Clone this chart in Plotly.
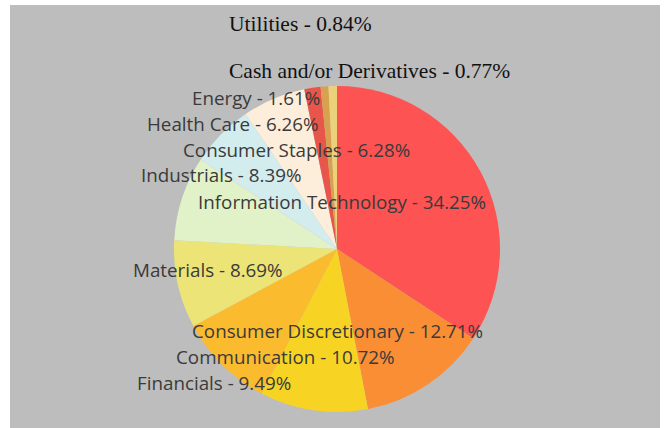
import plotly.graph_objects as go

sectors = ["Information Technology", "Consumer Discretionary", "Communication", "Financials",
           "Materials", "Industrials", "Consumer Staples", "Health Care", "Energy",
           "Cash and/or Derivatives", "Utilities"]
weights = [34.25, 12.71, 10.72, 9.49, 8.69, 8.39, 6.28, 6.26, 1.61, 0.77, 0.84]
colors = ["#fd5353", "#f98e35", "#f7d424", "#fbbb2f", "#ede477", "#e2f2c8",
          "#d3ecee", "#fdeedb", "#e8564b", "#d8a14f", "#ebd27a"]

W, H = 664, 428

fig = go.Figure(go.Pie(
    labels=sectors, values=weights, sort=False, direction="clockwise", rotation=0,
    marker=dict(colors=colors, line=dict(width=0)),
    textinfo="none", hoverinfo="label+percent", showlegend=False,
    domain=dict(x=[174 / W, 500 / W], y=[1 - 412 / H, 1 - 86 / H]),
))

# label placement (pixel left edge, pixel vertical centre)
label_pos = {
    "Utilities": (227, 24, "serif"),
    "Cash and/or Derivatives": (227, 71, "serif"),
    "Energy": (190, 98, "sans"),
    "Health Care": (145, 124, "sans"),
    "Consumer Staples": (181, 150, "sans"),
    "Industrials": (139, 175, "sans"),
    "Information Technology": (196, 202, "sans"),
    "Materials": (131, 270, "sans"),
    "Consumer Discretionary": (190, 331, "sans"),
    "Communication": (174, 357, "sans"),
    "Financials": (135, 383, "sans"),
}

annotations = []
for name, val in zip(sectors, weights):
    px, py, kind = label_pos[name]
    if kind == "serif":
        font = dict(family="Liberation Serif, Times New Roman, serif", size=21.5, color="#111111")
    else:
        font = dict(family="Open Sans, Noto Sans, sans-serif", size=18.8, color="#3a3a3a")
    annotations.append(dict(
        text=f"{name} - {val:.2f}%", x=px / W, y=1 - py / H, xref="paper", yref="paper",
        xanchor="left", yanchor="middle", showarrow=False, font=font,
    ))

fig.update_layout(
    width=W, height=H, margin=dict(l=0, r=0, t=0, b=0),
    paper_bgcolor="white",
    shapes=[dict(type="rect", xref="paper", yref="paper", x0=10 / W, x1=660 / W,
                 y0=0, y1=1 - 5 / H, fillcolor="#bdbdbd", line=dict(width=0), layer="below")],
    annotations=annotations,
)

fig.write_html("out.html", config={"displayModeBar": False},
               post_script="document.body.style.margin='0';document.body.style.overflow='hidden';")
